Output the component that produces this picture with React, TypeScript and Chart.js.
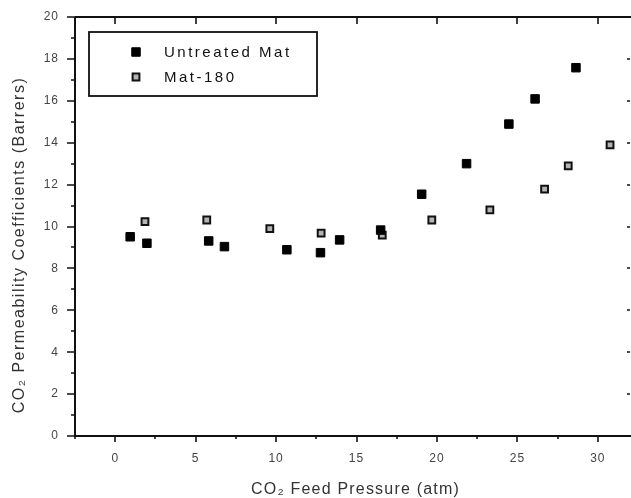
import React, { useEffect, useRef } from "react";
import { Chart, registerables } from "chart.js";

Chart.register(...registerables);

const xUntreated = [0.93, 1.97, 5.81, 6.79, 10.67, 12.76, 13.95, 16.5, 19.05, 21.84, 24.47, 26.1, 28.64];
const yUntreated = [9.51, 9.2, 9.31, 9.04, 8.89, 8.75, 9.36, 9.83, 11.54, 13.0, 14.89, 16.09, 17.58];
const xMat180 = [1.85, 5.69, 9.61, 12.8, 16.6, 19.68, 23.29, 26.69, 28.16, 30.76];
const yMat180 = [10.23, 10.31, 9.9, 9.68, 9.59, 10.31, 10.79, 11.78, 12.89, 13.9];
const xTicks = [0, 5, 10, 15, 20, 25, 30];
const xMinorTicks = [-2.5, 2.5, 7.5, 12.5, 17.5, 22.5, 27.5];
const yTicks = [0, 2, 4, 6, 8, 10, 12, 14, 16, 18, 20];
const yMinorTicks = [1, 3, 5, 7, 9, 11, 13, 15, 17, 19];
const seriesNames = ["Untreated Mat", "Mat-180"];
const xTitle = "CO₂ Feed Pressure (atm)";
const yTitle = "CO₂ Permeability Coefficients (Barrers)";

const FONT = "'Liberation Sans', Arial, sans-serif";

const framePlugin = {
  id: "frame",
  beforeDraw(chart: any) {
    (chart.ctx as any).letterSpacing = "1px";
  },
  afterDraw(chart: any) {
    const ctx = chart.ctx as CanvasRenderingContext2D;
    const { left, right, top, bottom } = chart.chartArea;
    const xs = chart.scales.x;
    const ys = chart.scales.y;
    ctx.save();
    ctx.strokeStyle = "#111";
    ctx.lineWidth = 2;
    ctx.beginPath();
    ctx.moveTo(left, top);
    ctx.lineTo(right + 3, top);
    ctx.moveTo(left, top);
    ctx.lineTo(left, bottom);
    ctx.lineTo(right + 3, bottom);
    ctx.stroke();
    ctx.lineWidth = 1.6;
    ctx.beginPath();
    xTicks.forEach((v) => {
      const p = Math.round(xs.getPixelForValue(v));
      ctx.moveTo(p, bottom);
      ctx.lineTo(p, bottom + 6);
      ctx.moveTo(p, top);
      ctx.lineTo(p, top + 7);
    });
    xMinorTicks.forEach((v) => {
      const p = Math.round(xs.getPixelForValue(v));
      ctx.moveTo(p, bottom);
      ctx.lineTo(p, bottom + 3);
    });
    yTicks.forEach((v) => {
      const p = Math.round(ys.getPixelForValue(v));
      ctx.moveTo(left, p);
      ctx.lineTo(left - 8, p);
      ctx.moveTo(right, p);
      ctx.lineTo(right - 3, p);
    });
    yMinorTicks.forEach((v) => {
      const p = Math.round(ys.getPixelForValue(v));
      ctx.moveTo(left, p);
      ctx.lineTo(left - 4, p);
    });
    ctx.stroke();

    // titles
    (ctx as any).letterSpacing = "1.2px";
    ctx.fillStyle = "#333";
    ctx.font = `16px ${FONT}`;
    ctx.textAlign = "center";
    ctx.textBaseline = "middle";
    ctx.fillText(xTitle, (left + right) / 2 + 3, 490);
    (ctx as any).letterSpacing = "1.5px";
    ctx.save();
    ctx.translate(20, 245);
    ctx.rotate(-Math.PI / 2);
    ctx.fillText(yTitle, 0, 0);
    ctx.restore();

    // legend
    ctx.lineWidth = 1.8;
    ctx.strokeStyle = "#111";
    ctx.strokeRect(89, 32, 228, 64);
    (ctx as any).letterSpacing = "2.5px";
    ctx.font = `15px ${FONT}`;
    ctx.textAlign = "left";
    const rows = [52, 77];
    chart.data.datasets.forEach((ds: any, i: number) => {
      const y = rows[i];
      ctx.fillStyle = ds.backgroundColor;
      ctx.strokeStyle = ds.borderColor;
      ctx.lineWidth = ds.borderWidth;
      const s = ds.pointRadius * Math.SQRT2;
      ctx.beginPath();
      ctx.rect(136 - s / 2, y - s / 2, s, s);
      ctx.fill();
      ctx.stroke();
      ctx.fillStyle = "#111";
      ctx.fillText(seriesNames[i], 164, y + 1);
    });
    (ctx as any).letterSpacing = "0px";
    ctx.restore();
  },
};

export default function App() {
  const ref = useRef<HTMLCanvasElement>(null);
  useEffect(() => {
    document.body.style.margin = "0";
    const chart = new Chart(ref.current!, {
      type: "scatter",
      data: {
        datasets: [
          {
            label: seriesNames[0],
            data: xUntreated.map((x, i) => ({ x, y: yUntreated[i] })),
            pointStyle: "rect",
            pointRadius: 6,
            backgroundColor: "#000",
            borderColor: "#000",
            borderWidth: 1,
          },
          {
            label: seriesNames[1],
            data: xMat180.map((x, i) => ({ x, y: yMat180[i] })),
            pointStyle: "rect",
            pointRadius: 4.8,
            backgroundColor: "#b4b4b4",
            borderColor: "#111",
            borderWidth: 2,
          },
        ],
      },
      options: {
        animation: false,
        responsive: false,
        layout: { autoPadding: false, padding: { top: 17, right: 1, left: 0, bottom: 0 } },
        plugins: { legend: { display: false }, tooltip: { enabled: false } },
        scales: {
          x: {
            type: "linear",
            min: -2.5,
            max: 32,
            grid: { display: false },
            border: { display: false },
            afterBuildTicks: (s: any) => {
              s.ticks = xTicks.map((v) => ({ value: v }));
            },
            afterFit: (s: any) => {
              s.height = 62;
              s.paddingLeft = 0;
              s.paddingRight = 0;
            },
            ticks: {
              padding: 7,
              color: "#444",
              font: { size: 12, family: FONT },
              callback: (v: any) => String(v),
            },
          },
          y: {
            type: "linear",
            min: 0,
            max: 20,
            grid: { display: false },
            border: { display: false },
            afterBuildTicks: (s: any) => {
              s.ticks = yTicks.map((v) => ({ value: v }));
            },
            afterFit: (s: any) => {
              s.width = 75;
              s.paddingTop = 0;
              s.paddingBottom = 0;
            },
            ticks: {
              padding: 8,
              color: "#444",
              font: { size: 12, family: FONT },
              callback: (v: any) => String(v),
            },
          },
        },
      },
      plugins: [framePlugin],
    });
    return () => chart.destroy();
  }, []);
  return <canvas ref={ref} width={631} height={498} style={{ display: "block" }} />;
}
